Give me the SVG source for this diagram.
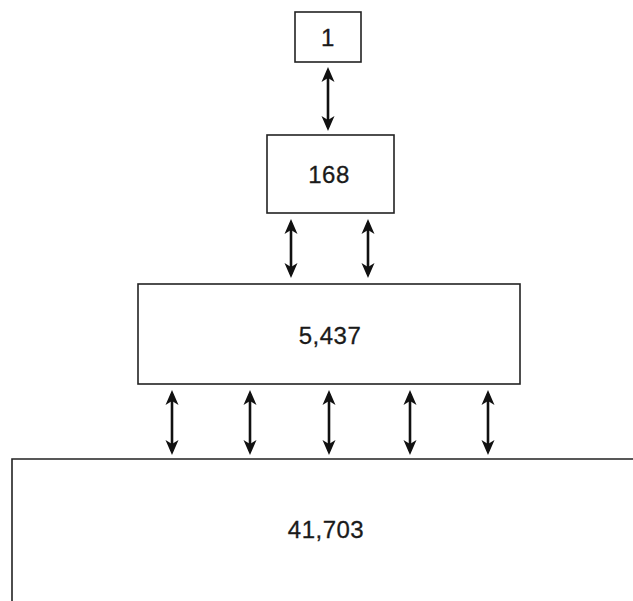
<svg xmlns="http://www.w3.org/2000/svg" width="633" height="601" viewBox="0 0 633 601">
  <style>
    .box { fill: #ffffff; stroke: #222222; stroke-width: 1.6; }
    .lbl { font-family: "Liberation Sans", Arial, sans-serif; font-size: 24px; fill: #1a1a1a; text-anchor: middle; letter-spacing: 0.5px; stroke: #1a1a1a; stroke-width: 0.3; }
    .conn { stroke: #111111; stroke-width: 2.6; fill: none; marker-start: url(#ah); marker-end: url(#ah); }
  </style>
  <defs>
    <marker id="ah" viewBox="0 0 15 14" markerWidth="15" markerHeight="14" refX="11" refY="7" markerUnits="userSpaceOnUse" orient="auto-start-reverse">
      <path d="M0,0.5 L15,7 L0,13.5 L4,7 z" fill="#111111"/>
    </marker>
  </defs>
  <rect width="633" height="601" fill="#ffffff"/>
  <g id="node-1">
    <rect class="box" x="295" y="12" width="66" height="50"/>
    <text class="lbl" x="328" y="46">1</text>
  </g>
  <g id="node-168">
    <rect class="box" x="267" y="135" width="127" height="78"/>
    <text class="lbl" x="329" y="183">168</text>
  </g>
  <g id="node-5437">
    <rect class="box" x="138" y="284" width="382" height="100"/>
    <text class="lbl" x="330" y="344">5,437</text>
  </g>
  <g id="node-41703">
    <path class="box" d="M12,601 L12,459 L633,459" fill="none"/>
    <text class="lbl" x="326" y="538">41,703</text>
  </g>
  <g id="connectors">
    <line class="conn" x1="328" y1="71" x2="328" y2="127"/>
    <line class="conn" x1="291" y1="223" x2="291" y2="274"/>
    <line class="conn" x1="368" y1="223" x2="368" y2="274"/>
    <line class="conn" x1="172" y1="394" x2="172" y2="451"/>
    <line class="conn" x1="250" y1="394" x2="250" y2="451"/>
    <line class="conn" x1="329" y1="394" x2="329" y2="451"/>
    <line class="conn" x1="410" y1="394" x2="410" y2="451"/>
    <line class="conn" x1="488" y1="394" x2="488" y2="451"/>
  </g>
</svg>
